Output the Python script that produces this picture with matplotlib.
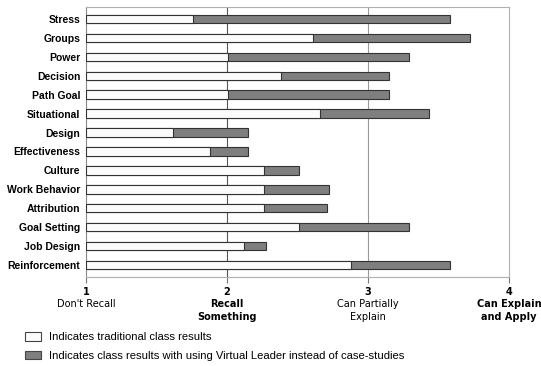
import numpy as np
import matplotlib.pyplot as plt
from matplotlib.patches import Patch
from matplotlib.transforms import blended_transform_factory

categories = ["Stress", "Groups", "Power", "Decision", "Path Goal", "Situational",
              "Design", "Effectiveness", "Culture", "Work Behavior", "Attribution",
              "Goal Setting", "Job Design", "Reinforcement"]
traditional = [1.76, 2.61, 2.01, 2.38, 2.01, 2.66, 1.62, 1.88, 2.26, 2.26, 2.26, 2.51, 2.12, 2.88]
virtual_leader = [3.58, 3.72, 3.29, 3.15, 3.15, 3.43, 2.15, 2.15, 2.51, 2.72, 2.71, 3.29, 2.28, 3.58]
tick_values = [1, 2, 3, 4]
tick_texts = ["Don't Recall", "Recall\nSomething", "Can Partially\nExplain", "Can Explain\nand Apply"]
tick_bold = [False, True, False, True]
legend_labels = ["Indicates traditional class results",
                 "Indicates class results with using Virtual Leader instead of case-studies"]

fig = plt.figure(figsize=(5.41, 3.66), dpi=100)
ax = fig.add_axes([86/541, 1-277/366, (509-86)/541, 270/366])

y = np.arange(len(categories))
h = 0.44
gray_c = "#7f7f7f"
ax.barh(y, np.array(virtual_leader) - 1, left=1, height=h, color=gray_c,
        edgecolor="#333333", linewidth=0.8, zorder=2)
ax.barh(y, np.array(traditional) - 1, left=1, height=h, color="#fbfbfb",
        edgecolor="#333333", linewidth=0.8, zorder=3)

ax.set_xlim(1, 4)
ax.set_ylim(13.63, -0.63)
ax.axvline(2, color="#555555", lw=0.8, zorder=1)
ax.axvline(3, color="#999999", lw=0.8, zorder=1)
for s in ax.spines.values():
    s.set_color("#b0b0b0")
    s.set_linewidth(0.8)
ax.spines["left"].set_color("#888888")

ax.set_yticks(y)
ax.set_yticklabels(categories, fontsize=7.5, fontweight="bold", family="Liberation Sans")
ax.tick_params(axis="y", length=0, pad=4)
ax.set_xticks(tick_values)
ax.set_xticklabels([])
ax.tick_params(axis="x", length=4, color="#777777", direction="out")

tr = blended_transform_factory(ax.transData, ax.transAxes)
for v, t, b in zip(tick_values, tick_texts, tick_bold):
    ax.text(v, -0.038, str(v), transform=tr, ha="center", va="top",
            fontsize=7, fontweight="bold", family="DejaVu Sans", clip_on=False)
    ax.text(v, -0.082, t, transform=tr, ha="center", va="top",
            fontsize=7, fontweight="bold" if b else "normal", family="DejaVu Sans",
            linespacing=1.35, clip_on=False)

handles = [Patch(facecolor="#fbfbfb", edgecolor="#444444", linewidth=0.8),
           Patch(facecolor=gray_c, edgecolor="#444444", linewidth=0.8)]
fig.legend(handles, legend_labels, loc="upper left", bbox_to_anchor=(25/541, 1-332/366),
           frameon=False, prop={"family": "Liberation Sans", "size": 8.15},
           handlelength=1.4, handleheight=0.8, handletextpad=0.7, labelspacing=0.75,
           borderaxespad=0, borderpad=0)

fig.savefig("out.png", dpi=100)
